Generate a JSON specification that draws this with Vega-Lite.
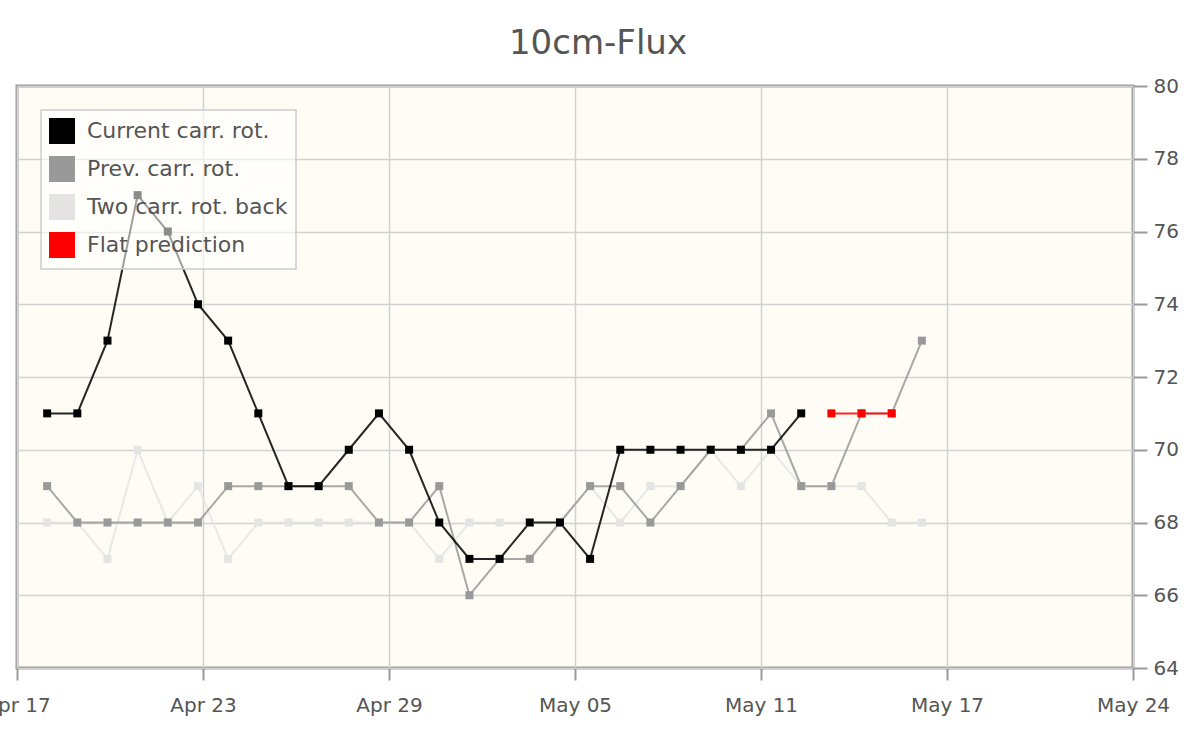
{
  "$schema": "https://vega.github.io/schema/vega-lite/v6.json",
  "width": 1116,
  "height": 582,
  "autosize": {"type": "none"},
  "padding": {"left": 17, "top": 86, "right": 65, "bottom": 66},
  "background": "#ffffff",
  "title": {
    "text": "10cm-Flux",
    "anchor": "middle",
    "frame": "group",
    "dx": 23,
    "offset": 15,
    "font": "DejaVu Sans",
    "fontSize": 34,
    "fontWeight": "normal",
    "color": "#555555"
  },
  "config": {
    "font": "DejaVu Sans",
    "view": {"fill": "#fffcf5", "stroke": "#9a9a9a", "strokeWidth": 3},
    "axis": {
      "labelFont": "DejaVu Sans",
      "labelFontSize": 20,
      "labelColor": "#555555",
      "gridColor": "#d2d2d2",
      "gridWidth": 1.5,
      "gridOpacity": 1,
      "tickColor": "#9a9a9a",
      "tickWidth": 2,
      "domain": false,
      "title": null
    }
  },
  "data": {
    "values": [
      {"d": "2024-04-18", "v": 68, "s": "Two carr. rot. back"},
      {"d": "2024-04-19", "v": 68, "s": "Two carr. rot. back"},
      {"d": "2024-04-20", "v": 67, "s": "Two carr. rot. back"},
      {"d": "2024-04-21", "v": 70, "s": "Two carr. rot. back"},
      {"d": "2024-04-22", "v": 68, "s": "Two carr. rot. back"},
      {"d": "2024-04-23", "v": 69, "s": "Two carr. rot. back"},
      {"d": "2024-04-24", "v": 67, "s": "Two carr. rot. back"},
      {"d": "2024-04-25", "v": 68, "s": "Two carr. rot. back"},
      {"d": "2024-04-26", "v": 68, "s": "Two carr. rot. back"},
      {"d": "2024-04-27", "v": 68, "s": "Two carr. rot. back"},
      {"d": "2024-04-28", "v": 68, "s": "Two carr. rot. back"},
      {"d": "2024-04-29", "v": 68, "s": "Two carr. rot. back"},
      {"d": "2024-04-30", "v": 68, "s": "Two carr. rot. back"},
      {"d": "2024-05-01", "v": 67, "s": "Two carr. rot. back"},
      {"d": "2024-05-02", "v": 68, "s": "Two carr. rot. back"},
      {"d": "2024-05-03", "v": 68, "s": "Two carr. rot. back"},
      {"d": "2024-05-04", "v": 68, "s": "Two carr. rot. back"},
      {"d": "2024-05-05", "v": 68, "s": "Two carr. rot. back"},
      {"d": "2024-05-06", "v": 69, "s": "Two carr. rot. back"},
      {"d": "2024-05-07", "v": 68, "s": "Two carr. rot. back"},
      {"d": "2024-05-08", "v": 69, "s": "Two carr. rot. back"},
      {"d": "2024-05-09", "v": 69, "s": "Two carr. rot. back"},
      {"d": "2024-05-10", "v": 70, "s": "Two carr. rot. back"},
      {"d": "2024-05-11", "v": 69, "s": "Two carr. rot. back"},
      {"d": "2024-05-12", "v": 70, "s": "Two carr. rot. back"},
      {"d": "2024-05-13", "v": 69, "s": "Two carr. rot. back"},
      {"d": "2024-05-14", "v": 69, "s": "Two carr. rot. back"},
      {"d": "2024-05-15", "v": 69, "s": "Two carr. rot. back"},
      {"d": "2024-05-16", "v": 68, "s": "Two carr. rot. back"},
      {"d": "2024-05-17", "v": 68, "s": "Two carr. rot. back"},
      {"d": "2024-04-18", "v": 69, "s": "Prev. carr. rot."},
      {"d": "2024-04-19", "v": 68, "s": "Prev. carr. rot."},
      {"d": "2024-04-20", "v": 68, "s": "Prev. carr. rot."},
      {"d": "2024-04-21", "v": 68, "s": "Prev. carr. rot."},
      {"d": "2024-04-22", "v": 68, "s": "Prev. carr. rot."},
      {"d": "2024-04-23", "v": 68, "s": "Prev. carr. rot."},
      {"d": "2024-04-24", "v": 69, "s": "Prev. carr. rot."},
      {"d": "2024-04-25", "v": 69, "s": "Prev. carr. rot."},
      {"d": "2024-04-26", "v": 69, "s": "Prev. carr. rot."},
      {"d": "2024-04-27", "v": 69, "s": "Prev. carr. rot."},
      {"d": "2024-04-28", "v": 69, "s": "Prev. carr. rot."},
      {"d": "2024-04-29", "v": 68, "s": "Prev. carr. rot."},
      {"d": "2024-04-30", "v": 68, "s": "Prev. carr. rot."},
      {"d": "2024-05-01", "v": 69, "s": "Prev. carr. rot."},
      {"d": "2024-05-02", "v": 66, "s": "Prev. carr. rot."},
      {"d": "2024-05-03", "v": 67, "s": "Prev. carr. rot."},
      {"d": "2024-05-04", "v": 67, "s": "Prev. carr. rot."},
      {"d": "2024-05-05", "v": 68, "s": "Prev. carr. rot."},
      {"d": "2024-05-06", "v": 69, "s": "Prev. carr. rot."},
      {"d": "2024-05-07", "v": 69, "s": "Prev. carr. rot."},
      {"d": "2024-05-08", "v": 68, "s": "Prev. carr. rot."},
      {"d": "2024-05-09", "v": 69, "s": "Prev. carr. rot."},
      {"d": "2024-05-10", "v": 70, "s": "Prev. carr. rot."},
      {"d": "2024-05-11", "v": 70, "s": "Prev. carr. rot."},
      {"d": "2024-05-12", "v": 71, "s": "Prev. carr. rot."},
      {"d": "2024-05-13", "v": 69, "s": "Prev. carr. rot."},
      {"d": "2024-05-14", "v": 69, "s": "Prev. carr. rot."},
      {"d": "2024-05-15", "v": 71, "s": "Prev. carr. rot."},
      {"d": "2024-05-16", "v": 71, "s": "Prev. carr. rot."},
      {"d": "2024-05-17", "v": 73, "s": "Prev. carr. rot."},
      {"d": "2024-04-18", "v": 71, "s": "Current carr. rot."},
      {"d": "2024-04-19", "v": 71, "s": "Current carr. rot."},
      {"d": "2024-04-20", "v": 73, "s": "Current carr. rot."},
      {"d": "2024-04-21", "v": 77, "s": "Current carr. rot."},
      {"d": "2024-04-22", "v": 76, "s": "Current carr. rot."},
      {"d": "2024-04-23", "v": 74, "s": "Current carr. rot."},
      {"d": "2024-04-24", "v": 73, "s": "Current carr. rot."},
      {"d": "2024-04-25", "v": 71, "s": "Current carr. rot."},
      {"d": "2024-04-26", "v": 69, "s": "Current carr. rot."},
      {"d": "2024-04-27", "v": 69, "s": "Current carr. rot."},
      {"d": "2024-04-28", "v": 70, "s": "Current carr. rot."},
      {"d": "2024-04-29", "v": 71, "s": "Current carr. rot."},
      {"d": "2024-04-30", "v": 70, "s": "Current carr. rot."},
      {"d": "2024-05-01", "v": 68, "s": "Current carr. rot."},
      {"d": "2024-05-02", "v": 67, "s": "Current carr. rot."},
      {"d": "2024-05-03", "v": 67, "s": "Current carr. rot."},
      {"d": "2024-05-04", "v": 68, "s": "Current carr. rot."},
      {"d": "2024-05-05", "v": 68, "s": "Current carr. rot."},
      {"d": "2024-05-06", "v": 67, "s": "Current carr. rot."},
      {"d": "2024-05-07", "v": 70, "s": "Current carr. rot."},
      {"d": "2024-05-08", "v": 70, "s": "Current carr. rot."},
      {"d": "2024-05-09", "v": 70, "s": "Current carr. rot."},
      {"d": "2024-05-10", "v": 70, "s": "Current carr. rot."},
      {"d": "2024-05-11", "v": 70, "s": "Current carr. rot."},
      {"d": "2024-05-12", "v": 70, "s": "Current carr. rot."},
      {"d": "2024-05-13", "v": 71, "s": "Current carr. rot."},
      {"d": "2024-05-14", "v": 71, "s": "Flat prediction"},
      {"d": "2024-05-15", "v": 71, "s": "Flat prediction"},
      {"d": "2024-05-16", "v": 71, "s": "Flat prediction"}
    ]
  },
  "encoding": {
    "x": {
      "field": "d",
      "type": "temporal",
      "scale": {
        "type": "utc",
        "domain": [
          {"year": 2024, "month": 4, "date": 17, "utc": true},
          {"year": 2024, "month": 5, "date": 24, "utc": true}
        ]
      },
      "axis": {
        "values": [
          {"year": 2024, "month": 4, "date": 17, "utc": true},
          {"year": 2024, "month": 4, "date": 23, "hours": 4, "utc": true},
          {"year": 2024, "month": 4, "date": 29, "hours": 8, "utc": true},
          {"year": 2024, "month": 5, "date": 5, "hours": 12, "utc": true},
          {"year": 2024, "month": 5, "date": 11, "hours": 16, "utc": true},
          {"year": 2024, "month": 5, "date": 17, "hours": 20, "utc": true},
          {"year": 2024, "month": 5, "date": 24, "utc": true}
        ],
        "labelExpr": "utcFormat(datum.value, '%b %d')",
        "tickSize": 12,
        "labelPadding": 15,
        "labelFlush": false,
        "labelOverlap": false
      }
    },
    "y": {
      "field": "v",
      "type": "quantitative",
      "scale": {"domain": [64, 80], "nice": false, "zero": false},
      "axis": {
        "orient": "right",
        "values": [64, 66, 68, 70, 72, 74, 76, 78, 80],
        "tickSize": 14,
        "labelPadding": 6
      }
    },
    "color": {
      "field": "s",
      "type": "nominal",
      "scale": {
        "domain": ["Current carr. rot.", "Prev. carr. rot.", "Two carr. rot. back", "Flat prediction"],
        "range": ["#000000", "#999999", "#e4e4e4", "#ff0000"]
      },
      "legend": {
        "title": null,
        "orient": "top-left",
        "offset": 24,
        "padding": 8,
        "zindex": 1,
        "fillColor": "rgba(255,255,255,0.55)",
        "strokeColor": "#cccccc",
        "labelFont": "DejaVu Sans",
        "labelFontSize": 22,
        "labelColor": "#555555",
        "labelOffset": 12,
        "labelLimit": 400,
        "symbolType": "square",
        "symbolSize": 576,
        "symbolStrokeWidth": 2,
        "symbolOpacity": 1,
        "rowPadding": 6,
        "encode": {
          "legend": {
            "update": {
              "strokeWidth": {"value": 1.5}
            }
          },
          "symbols": {
            "update": {
              "fill": {"scale": "color", "field": "value"},
              "stroke": {"value": "#c8c8c8"},
              "strokeWidth": {"value": 2},
              "opacity": {"value": 1},
              "fillOpacity": {"value": 1}
            }
          }
        }
      }
    }
  },
  "layer": [
    {
      "mark": {"type": "line", "strokeWidth": 2, "strokeOpacity": 0.85}
    },
    {
      "mark": {"type": "point", "shape": "square", "filled": true, "size": 64, "opacity": 1}
    }
  ]
}
